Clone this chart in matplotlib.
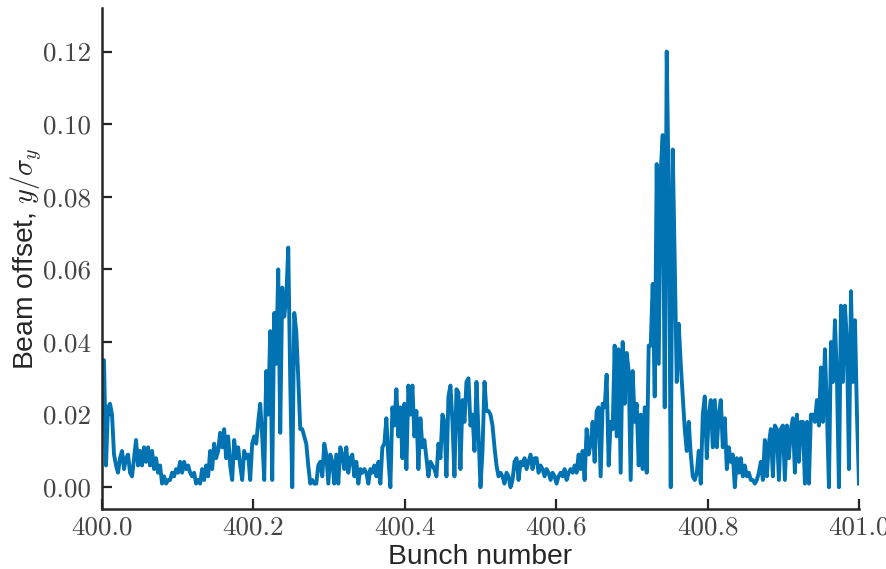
import numpy as np
import matplotlib
matplotlib.use('Agg')
import matplotlib.pyplot as plt
from matplotlib.ticker import FormatStrFormatter

# beam offset, in units of 1e-3 sigma_y,
# one value per bunch step between 400.0 and 401.0
offset_milli = [
  34, 35, 6, 22, 23, 20, 9, 6, 4, 8, 10, 5, 8, 9, 4, 3, 8, 13, 6, 10,
  6, 11, 7, 11, 6, 10, 5, 8, 4, 6, 1, 3, 1, 2, 2, 4, 3, 5, 4,
  7, 4, 7, 5, 6, 4, 3, 4, 1, 2, 1, 5, 2, 6, 3, 10, 5, 12, 8,
  10, 15, 11, 16, 8, 14, 6, 2, 13, 8, 11, 6, 2, 10, 8, 9, 2, 12,
  14, 12, 18, 23, 14, 2, 32, 20, 43, 2, 48, 34, 60, 15, 55, 47, 52, 66, 29, 0, 48, 43, 30, 16,
  16, 14, 12, 6, 1, 2, 1, 1, 6, 7, 3, 12, 9, 1, 9, 7, 1, 9, 1, 11,
  9, 5, 11, 4, 8, 9, 3, 7, 1, 5, 4, 5, 4, 1, 5, 4, 6, 3, 7,
  1, 11, 12, 19, 8, 0, 22, 17, 27, 14, 22, 8, 23, 5, 28, 20, 28, 14, 21, 5, 19,
  11, 13, 8, 3, 7, 6, 5, 3, 12, 8, 20, 18, 3, 25, 28, 18, 3, 27, 26, 5,
  24, 18, 29, 30, 17, 20, 10, 29, 15, 0, 10, 29, 21, 21, 20, 17, 11, 6, 3, 4,
  3, 1, 4, 3, 0, 2, 7, 8, 2, 7, 6, 8, 5, 7, 9, 5, 8, 8, 4, 6,
  5, 3, 5, 4, 2, 4, 3, 1, 3, 4, 3, 5, 2, 4, 5, 4, 6, 4, 9, 5,
  10, 2, 16, 9, 12, 18, 7, 21, 22, 3, 23, 22, 31, 6, 18, 16, 39, 14, 38, 4,
  40, 23, 37, 32, 2, 32, 18, 23, 6, 20, 5, 22, 4, 39, 39, 56, 25, 89, 34, 87,
  97, 22, 120, 80, 0, 93, 62, 29, 45, 34, 25, 16, 10, 18, 9, 3, 2, 4, 10, 1,
  20, 25, 8, 20, 24, 11, 24, 11, 20, 24, 11, 19, 5, 11, 7, 9, 0, 8, 4, 8,
  3, 6, 3, 4, 2, 2, 1, 2, 4, 7, 2, 13, 3, 12, 16, 3, 17, 16, 2, 16,
  17, 2, 17, 8, 16, 19, 4, 20, 7, 18, 18, 1, 18, 1, 20, 20, 18, 24, 17, 33,
  18, 38, 21, 0, 40, 29, 46, 30, 0, 50, 29, 50, 40, 5, 54, 29, 46, 20, 1,
]
bunch_start, bunch_end = 400.0, 401.0
xtick_vals = [400.0, 400.2, 400.4, 400.6, 400.8, 401.0]
ytick_vals = [0.0, 0.02, 0.04, 0.06, 0.08, 0.10, 0.12]

offset = np.array(offset_milli) / 1000.0
bunch = np.linspace(bunch_start, bunch_end, len(offset))

plt.rcParams['mathtext.fontset'] = 'cm'
plt.rcParams['font.family'] = ['Liberation Sans', 'DejaVu Sans']

fig = plt.figure(figsize=(8.87, 5.69), dpi=100)
ax = fig.add_axes([0.115, 0.1054, 0.8534, 0.8806])
ax.plot(bunch, offset, color='#0173b2', lw=2.8)

ax.set_xlim(bunch_start, bunch_end)
ax.set_ylim(-0.006, 0.132)
ax.set_xticks(xtick_vals)
ax.set_yticks(ytick_vals)
ax.xaxis.set_major_formatter(FormatStrFormatter('%.1f'))
ax.yaxis.set_major_formatter(FormatStrFormatter('%.2f'))

for side in ['top', 'right']:
  ax.spines[side].set_visible(False)
for side in ['left', 'bottom']:
  ax.spines[side].set_linewidth(1.8)
  ax.spines[side].set_color('#262626')

ax.tick_params(direction='in', length=7, width=1.6, color='#262626', labelsize=19.5, labelcolor='#444444')
ax.tick_params(axis='y', pad=8)
ax.tick_params(axis='x', pad=5)
for lab in ax.get_xticklabels() + ax.get_yticklabels():
  lab.set_fontfamily('cmr10')

ax.set_xlabel('Bunch number', fontsize=20.3, color='#262626', labelpad=3)
ax.set_ylabel(r'Beam offset, $y/\sigma_y$', fontsize=20.3, color='#262626', labelpad=-1)

fig.savefig('out.png', dpi=100)
